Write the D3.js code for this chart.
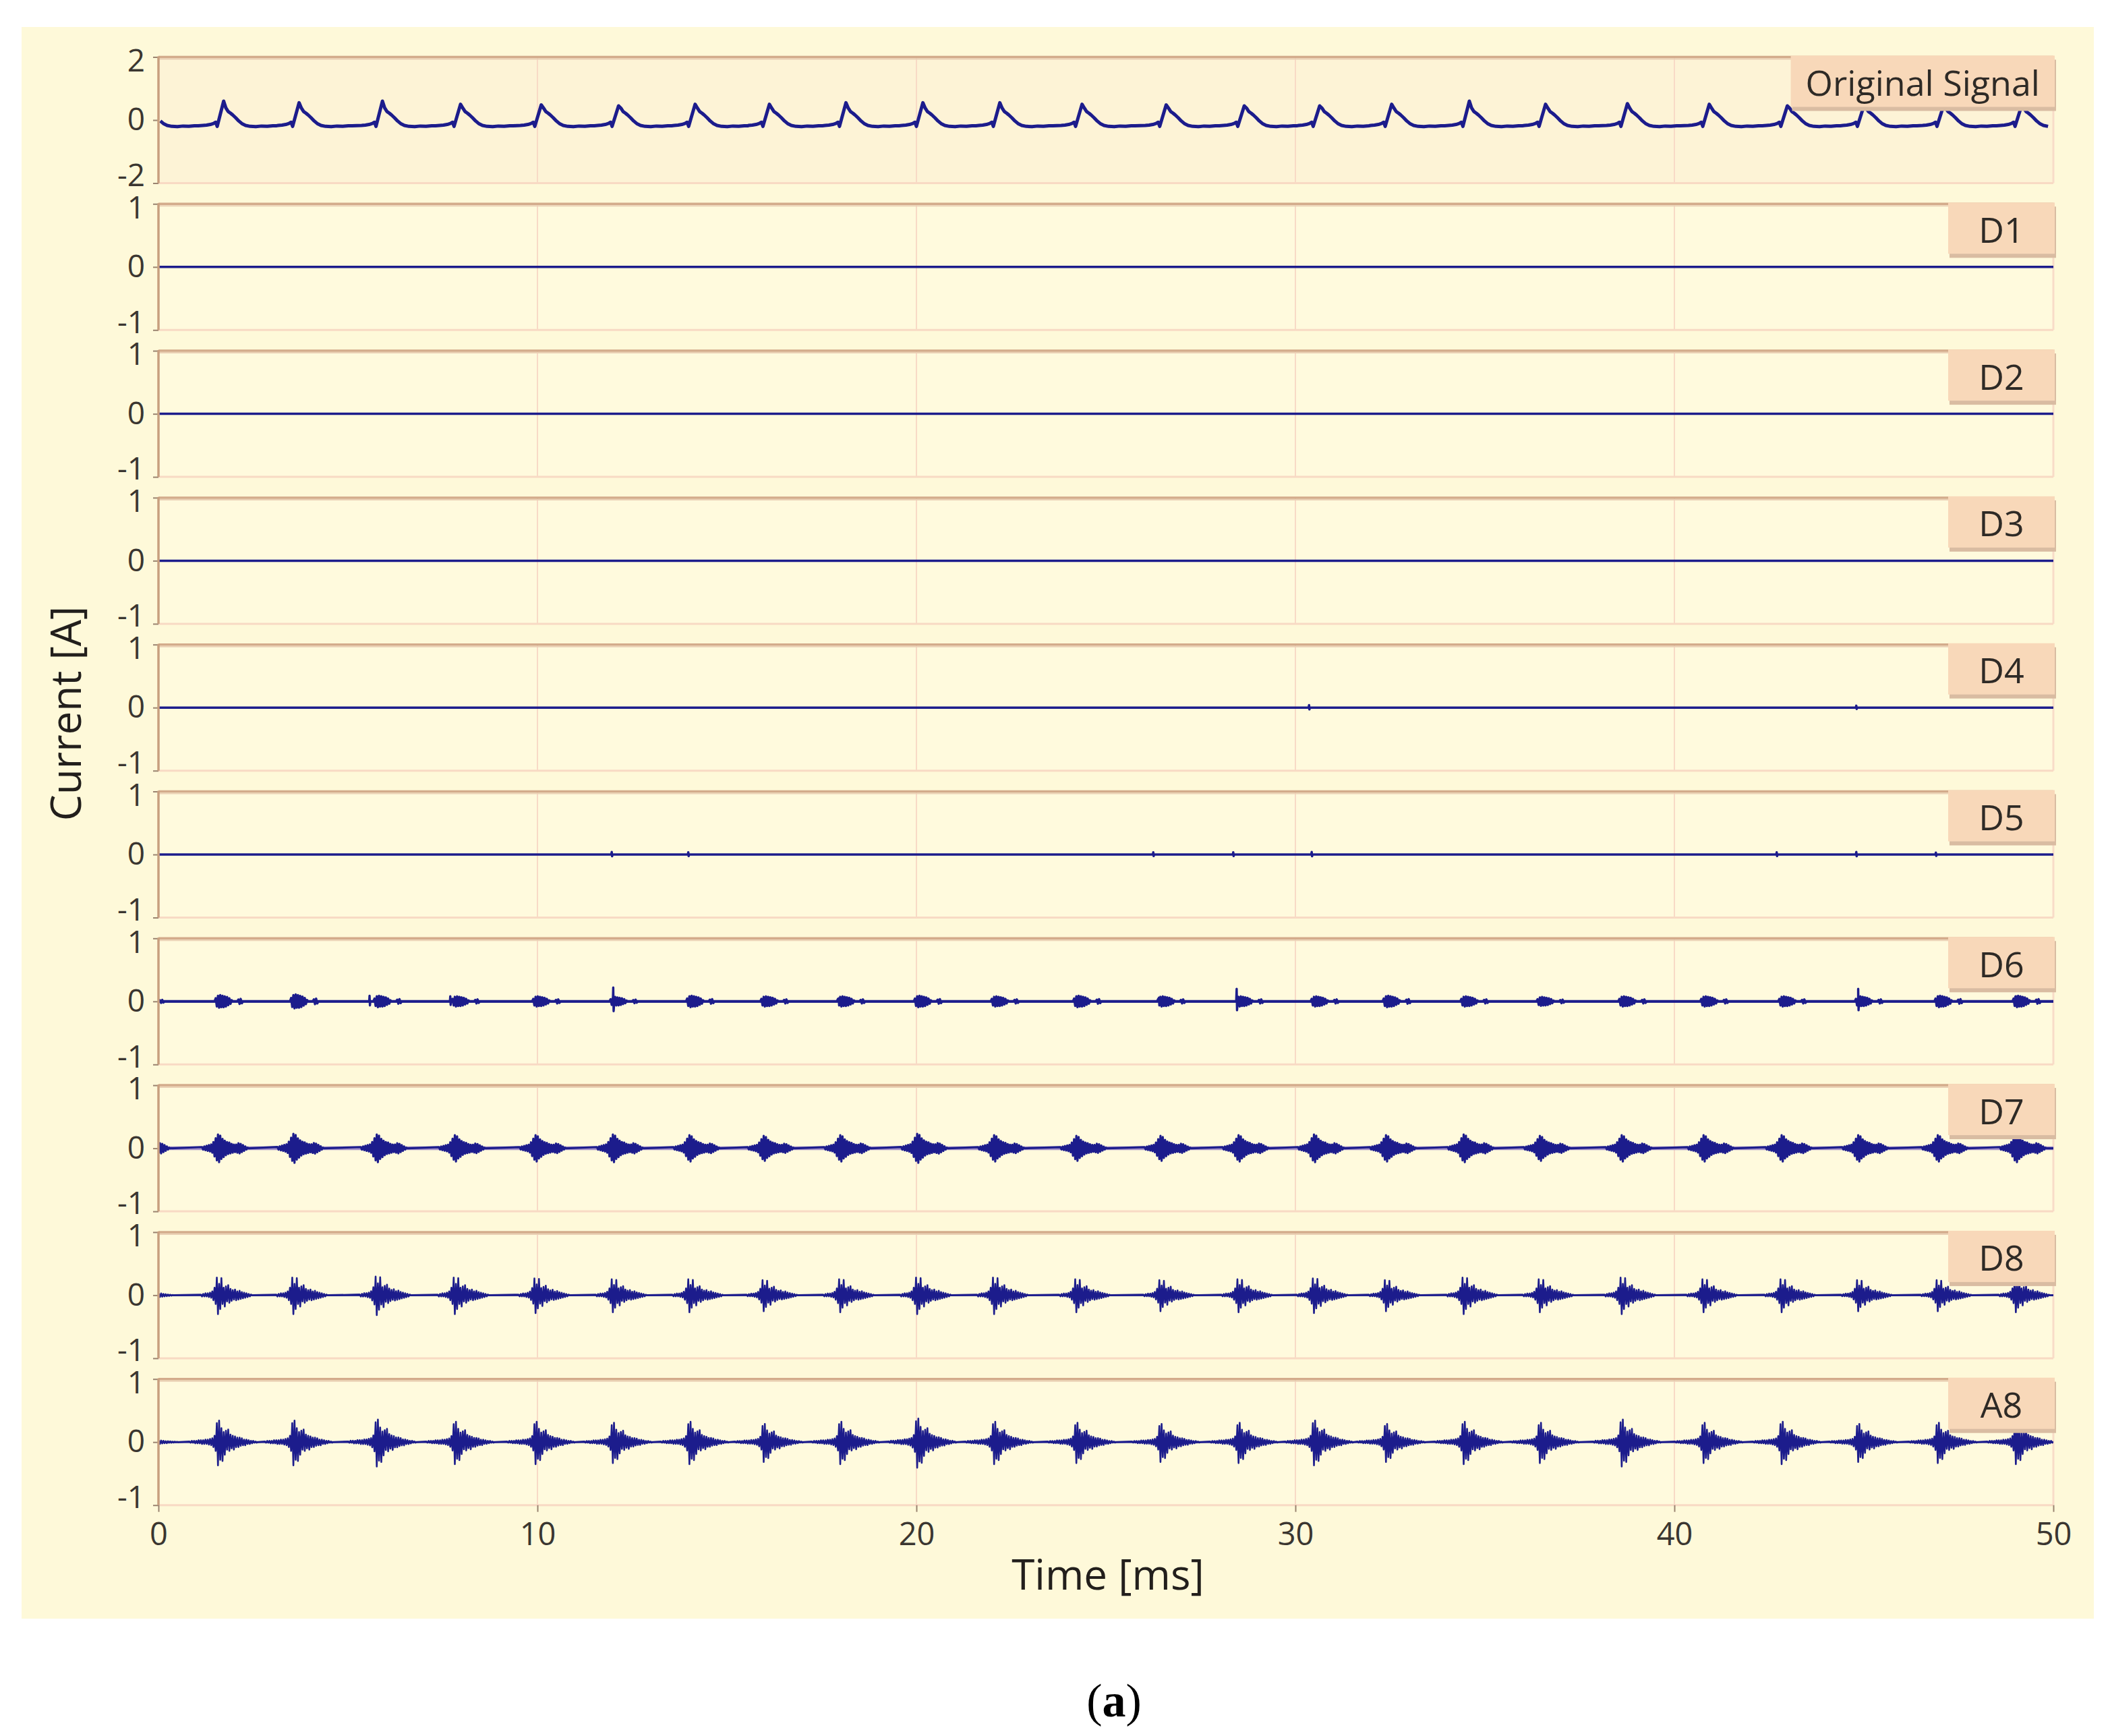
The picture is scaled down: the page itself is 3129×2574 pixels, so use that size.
<!DOCTYPE html>
<html>
<head>
<meta charset="utf-8">
<script src="https://cdn.jsdelivr.net/npm/d3@7"></script>
<style>
  body { margin: 0; background: #ffffff; }
  text { font-family: "Open Sans", "Noto Sans", sans-serif; }
</style>
</head>
<body>
<div id="vis"></div>
<script>
// panel names, top to bottom
const panelNames = ['Original Signal', 'D1', 'D2', 'D3', 'D4', 'D5', 'D6', 'D7', 'D8', 'A8'];
const panelLimits = [2, 1, 1, 1, 1, 1, 1, 1, 1, 1];
const xTicks = [0, 10, 20, 30, 40, 50];

// times (ms) of the current peaks (first one is the tail of an event before 0)
const peakTimes = [-0.35, 1.72, 3.71, 5.91, 7.97, 10.1, 12.14, 14.16, 16.12, 18.14, 20.17, 22.2, 24.37,
  26.59, 28.65, 30.64, 32.54, 34.59, 36.6, 38.76, 40.92, 42.98, 45.0, 47.1, 49.16];
const origPeaks = [0.5, 0.6, 0.55, 0.6, 0.5, 0.48, 0.45, 0.5, 0.5, 0.55, 0.55, 0.55, 0.5,
  0.48, 0.45, 0.45, 0.5, 0.6, 0.5, 0.52, 0.5, 0.45, 0.45, 0.45, 0.45];

// one cycle of the original signal around a peak (dt in ms, value in A; dt = 0 takes the peak value)
const origDt = [-0.55, -0.45, -0.35, -0.27, -0.21, -0.17, 0.00, 0.06, 0.12, 0.18, 0.24, 0.32, 0.40,
  0.48, 0.58, 0.70, 0.85, 1.00, 1.15, 1.30, 1.40];
const origVal = [-0.17, -0.16, -0.14, -0.11, -0.07, -0.20, 0.55, 0.38, 0.27, 0.22, 0.16, 0.07, -0.03,
  -0.11, -0.17, -0.20, -0.21, -0.19, -0.20, -0.18, -0.18];

// small isolated spikes in D4 and D5 [time, value]
const d4Spikes = [[30.36, 0.04], [44.8, 0.03]];
const d5Spikes = [[11.96, 0.04], [13.98, 0.035], [26.25, 0.035], [28.36, 0.035], [30.43, 0.04],
  [42.7, 0.035], [44.8, 0.04], [46.9, 0.03]];

// burst shapes around each peak, sampled every 0.03 ms starting at the given offset
const d6Start = -0.24;
const d6Burst = [0.00, 0.05, -0.08, 0.09, -0.10, 0.10, -0.09, 0.09, -0.09, 0.08, -0.08, 0.07, -0.06,
  0.05, -0.04, 0.02, 0.00, 0.00, 0.00, 0.00, 0.00, 0.03, -0.04, 0.04, -0.03, 0.00];
const d6Scale = [0.6, 1.0, 1.1, 0.9, 0.8, 0.8, 0.7, 0.9, 0.8, 0.8, 0.9, 0.8, 0.9,
  0.8, 0.8, 0.8, 0.9, 0.8, 0.7, 0.8, 0.8, 0.8, 0.8, 0.9, 0.9];
const d6Spikes = [[5.57, 0.09], [7.7, 0.08], [9.95, 0.06], [12.0, 0.22], [17.95, 0.05], [26.4, 0.06],
  [28.45, 0.2], [36.45, 0.05], [44.85, 0.2], [46.95, 0.07], [49.0, 0.08]];

const d7Start = -0.57;
const d7Burst = [0.02, -0.02, 0.03, -0.03, 0.04, -0.04, 0.05, -0.05, 0.06, -0.07, 0.10, -0.13, 0.16,
  -0.19, 0.22, -0.22, 0.20, -0.17, 0.15, -0.14, 0.12, -0.11, 0.10, -0.09, 0.09, -0.08, 0.07, -0.07,
  0.06, -0.06, 0.06, -0.07, 0.08, -0.08, 0.07, -0.06, 0.05, -0.04, 0.03, -0.02, 0.01, 0.00];
const d7Scale = [1.0, 1.0, 1.05, 1.0, 0.95, 0.95, 1.0, 0.95, 0.9, 0.95, 1.05, 0.95, 0.9,
  0.9, 0.95, 1.0, 0.95, 1.0, 0.9, 0.95, 0.95, 0.95, 0.95, 0.95, 1.0];

const d8Start = -0.60;
const d8Burst = [0.01, -0.02, 0.02, -0.02, 0.03, -0.02, 0.03, -0.03, 0.04, -0.04, 0.06, -0.08, 0.12,
  -0.14, 0.28, -0.30, 0.18, -0.22, 0.27, -0.14, 0.12, -0.18, 0.14, -0.10, 0.16, -0.12, 0.10, -0.09,
  0.08, -0.07, 0.09, -0.08, 0.06, -0.07, 0.07, -0.06, 0.05, -0.05, 0.04, -0.04, 0.03, -0.03, 0.02,
  -0.02, 0.01, 0.00];
const d8Scale = [0.4, 1.0, 1.0, 1.05, 1.0, 0.95, 0.9, 0.9, 0.85, 0.9, 1.0, 1.0, 0.9,
  0.85, 0.9, 0.95, 0.85, 1.0, 0.9, 1.0, 0.9, 0.9, 0.85, 0.85, 0.9];

const a8Start = -0.90;
const a8Burst = [0.01, -0.01, 0.02, -0.01, 0.02, -0.02, 0.02, -0.02, 0.03, -0.02, 0.03, -0.03, 0.03,
  -0.03, 0.04, -0.03, 0.04, -0.04, 0.05, -0.05, 0.06, -0.08, 0.10, -0.14, 0.30, -0.37, 0.34, -0.28,
  0.22, -0.30, 0.16, -0.20, 0.18, -0.12, 0.20, -0.14, 0.12, -0.10, 0.10, -0.12, 0.09, -0.08, 0.07,
  -0.08, 0.07, -0.06, 0.06, -0.05, 0.04, -0.05, 0.04, -0.03, 0.03, -0.03, 0.02, -0.02, 0.02, -0.01,
  0.01, -0.01, 0.00];
const a8Scale = [0.35, 1.0, 1.0, 1.05, 0.95, 0.95, 0.9, 0.95, 0.85, 0.95, 1.1, 0.95, 0.9,
  0.85, 0.9, 1.0, 0.85, 0.95, 0.9, 1.05, 0.9, 0.95, 0.85, 0.9, 0.95];

// ---------------------------------------------------------------

const W = 3129, H = 2574;
const xLeft = 235, xRight = 3045;
const firstCenter = 178, pitch = 217.8, halfH = 93.5;
const lineColor = '#1c1c8c';

const svg = d3.select('#vis').append('svg').attr('width', W).attr('height', H);

svg.append('rect').attr('width', W).attr('height', H).style('fill', '#ffffff');
svg.append('rect')
  .attr('x', 32).attr('y', 40).attr('width', 3073).attr('height', 2360)
  .style('fill', '#fef9d9');

const x = d3.scaleLinear().domain([0, 50]).range([xLeft, xRight]);

function burstSeries(start, burst, scales, spikes) {
  let pts = [[0, 0], [50, 0]];
  peakTimes.forEach((tp, i) => {
    burst.forEach((v, j) => pts.push([tp + start + j * 0.03, v * scales[i]]));
  });
  (spikes || []).forEach(s => {
    pts.push([s[0] - 0.01, 0], [s[0], s[1]], [s[0] + 0.01, -s[1] * 0.7], [s[0] + 0.02, 0]);
  });
  return pts.filter(d => d[0] >= 0 && d[0] <= 50).sort((a, b) => a[0] - b[0]);
}

function originalSeries() {
  let pts = [];
  peakTimes.forEach((tp, i) => {
    const next = i < peakTimes.length - 1 ? peakTimes[i + 1] + origDt[0] : 51;
    origDt.forEach((dt, j) => {
      const t = tp + dt;
      if (t < next) pts.push([t, dt === 0 ? origPeaks[i] : origVal[j]]);
    });
  });
  return pts.filter(d => d[0] >= 0 && d[0] <= 50).sort((a, b) => a[0] - b[0]);
}

function spikeSeries(spikes) {
  return burstSeries(0, [], peakTimes.map(() => 0), spikes);
}

const seriesData = [
  originalSeries(),
  [[0, 0], [50, 0]],
  [[0, 0], [50, 0]],
  [[0, 0], [50, 0]],
  spikeSeries(d4Spikes),
  spikeSeries(d5Spikes),
  burstSeries(d6Start, d6Burst, d6Scale, d6Spikes),
  burstSeries(d7Start, d7Burst, d7Scale),
  burstSeries(d8Start, d8Burst, d8Scale),
  burstSeries(a8Start, a8Burst, a8Scale)
];
const strokeW = [5, 3.5, 3.5, 3.5, 3.5, 3.5, 3.4, 3.2, 2.6, 2.6];
// thick zero line drawn under the signal (colour, width), null for none
const baseLine = [null, null, null, null, null, null, ['#1c1c8c', 4], ['#a592c8', 5.5], ['#3a3a98', 3], ['#3a3a98', 3]];

function drawPanel(i) {
  const cy = firstCenter + i * pitch;
  const top = cy - halfH, bottom = cy + halfH;
  const lim = panelLimits[i];
  const y = d3.scaleLinear().domain([-lim, lim]).range([bottom, top]);
  const g = svg.append('g').attr('class', 'panel' + i);

  g.append('rect')
    .attr('x', xLeft).attr('y', top).attr('width', xRight - xLeft).attr('height', bottom - top)
    .style('fill', i === 0 ? '#fdf3d6' : '#fffadd');

  // vertical grid
  g.selectAll('.grid')
    .data(xTicks.slice(1, -1))
    .join('line')
    .attr('x1', d => x(d)).attr('x2', d => x(d))
    .attr('y1', top).attr('y2', bottom)
    .style('stroke', '#f8dac6').style('stroke-width', 2);

  // right and bottom frame
  g.append('line').attr('x1', xRight).attr('x2', xRight).attr('y1', top).attr('y2', bottom)
    .style('stroke', '#f8dcc8').style('stroke-width', 3);
  g.append('line').attr('x1', xLeft).attr('x2', xRight).attr('y1', bottom).attr('y2', bottom)
    .style('stroke', '#f8dac4').style('stroke-width', 3);
  g.append('line').attr('x1', xLeft).attr('x2', xRight).attr('y1', top + 3).attr('y2', top + 3)
    .style('stroke', '#ead0b4').style('stroke-width', 2);
  g.append('line').attr('x1', xLeft).attr('x2', xRight).attr('y1', top).attr('y2', top)
    .style('stroke', '#d3ab8b').style('stroke-width', 3.5);

  // signal
  g.append('clipPath').attr('id', 'clip' + i)
    .append('rect').attr('x', xLeft).attr('y', top).attr('width', xRight - xLeft).attr('height', bottom - top);
  if (baseLine[i]) {
    g.append('line')
      .attr('x1', x(0)).attr('x2', x(50)).attr('y1', y(0)).attr('y2', y(0))
      .style('stroke', baseLine[i][0]).style('stroke-width', baseLine[i][1]);
  }
  const line = d3.line().x(d => x(d[0])).y(d => y(d[1]));
  g.append('path')
    .attr('d', line(seriesData[i]))
    .attr('clip-path', 'url(#clip' + i + ')')
    .style('fill', 'none')
    .style('stroke', lineColor)
    .style('stroke-width', strokeW[i])
    .style('stroke-linejoin', 'round');

  // y axis
  const yAxis = g.append('g')
    .attr('transform', `translate(${xLeft},0)`)
    .call(d3.axisLeft(y).tickValues([lim, 0, -lim]).tickSize(8).tickPadding(12).tickFormat(d => String(d)));
  yAxis.select('.domain').remove();
  yAxis.selectAll('.tick line').style('stroke', '#9a8470').style('stroke-width', 2);
  yAxis.selectAll('.tick text')
    .attr('y', d => d > 0 ? 6 : (d < 0 ? -11 : 0))
    .style('font-size', '46px')
    .style('fill', '#3a3630')
    .style('font-family', '"Open Sans", sans-serif');
  g.append('line').attr('x1', xLeft).attr('x2', xLeft).attr('y1', top - 1).attr('y2', bottom)
    .style('stroke', '#c89f7e').style('stroke-width', 3.5);

  // label box in the top right corner
  const box = g.append('g');
  const shadow = box.append('rect').style('fill', '#d9bca2');
  const face = box.append('rect').style('fill', '#f8d8b9');
  const label = box.append('text')
    .attr('y', top + 37)
    .style('font-size', '52px')
    .style('fill', '#2e2a26')
    .style('text-anchor', 'middle')
    .style('dominant-baseline', 'central')
    .text(panelNames[i]);
  const tw = label.node().getComputedTextLength();
  const bw = Math.max(158, tw + 44);
  const bx = xRight + 2 - bw;
  label.attr('x', bx + bw / 2);
  shadow.attr('x', bx + 2).attr('y', top + 4).attr('width', bw).attr('height', 76);
  face.attr('x', bx).attr('y', top - 2).attr('width', bw).attr('height', 76);
}

panelNames.forEach((name, i) => drawPanel(i));

// x axis under the last panel
const lastBottom = firstCenter + 9 * pitch + halfH;
const xAxis = svg.append('g')
  .attr('transform', `translate(0,${lastBottom})`)
  .call(d3.axisBottom(x).tickValues(xTicks).tickSize(10).tickPadding(16));
xAxis.select('.domain').remove();
xAxis.selectAll('.tick line').style('stroke', '#9a8470').style('stroke-width', 2);
xAxis.selectAll('.tick text')
  .style('font-size', '47px')
  .style('fill', '#3a3630')
  .style('font-family', '"Open Sans", sans-serif');

// axis titles
svg.append('text')
  .attr('x', 1643).attr('y', 2333)
  .style('font-size', '62px')
  .style('fill', '#221f1c')
  .style('text-anchor', 'middle')
  .style('dominant-baseline', 'central')
  .text('Time [ms]');

svg.append('text')
  .attr('transform', 'translate(96,1058) rotate(-90)')
  .style('font-size', '62px')
  .style('fill', '#221f1c')
  .style('text-anchor', 'middle')
  .style('dominant-baseline', 'central')
  .text('Current [A]');

// caption
const cap = svg.append('text')
  .attr('x', 1652).attr('y', 2545)
  .style('font-family', '"Liberation Serif", "DejaVu Serif", serif')
  .style('font-size', '70px')
  .style('fill', '#000000')
  .style('text-anchor', 'middle');
cap.append('tspan').text('(');
cap.append('tspan').style('font-weight', 'bold').text('a');
cap.append('tspan').text(')');
</script>
</body>
</html>
